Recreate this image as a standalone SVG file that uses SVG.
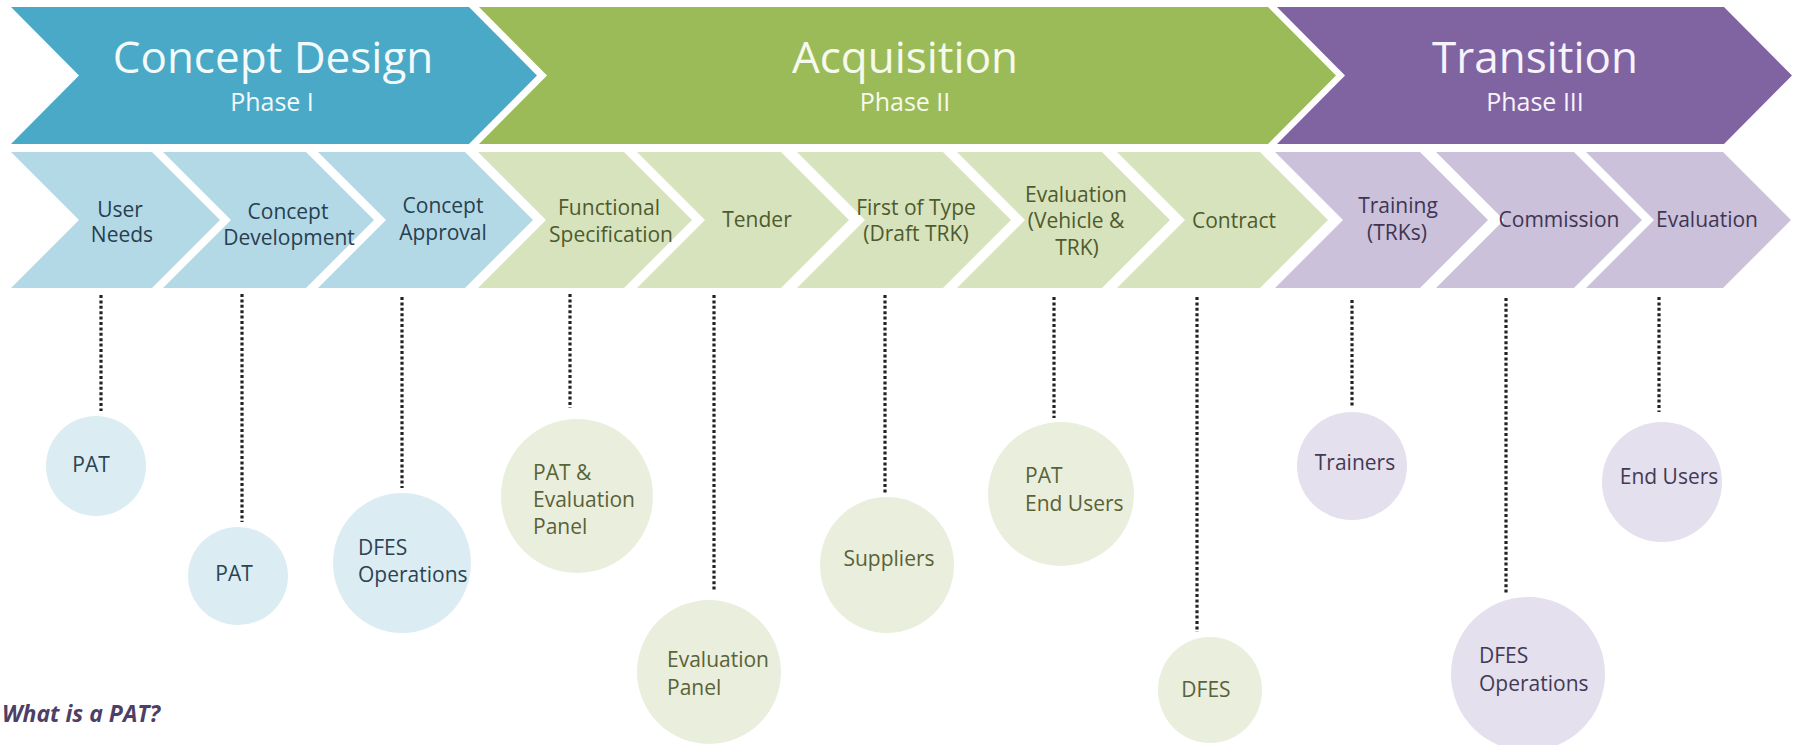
<svg xmlns="http://www.w3.org/2000/svg" width="1799" height="745" viewBox="0 0 1799 745">
  <style>
    text { font-family: "Open Sans", "Noto Sans", "DejaVu Sans", sans-serif; }
    .title { font-size: 44px; text-anchor: middle; }
    .phase { font-size: 25px; text-anchor: middle; }
    .lbl { font-size: 21px; text-anchor: middle; }
    .clbl { font-size: 21px; }
    .mid { text-anchor: middle; }
    .bigB { fill: #4aa9c6; } .bigG { fill: #9bbb59; } .bigP { fill: #8064a2; }
    .stB { fill: #b4d9e6; } .stG { fill: #d7e3bd; } .stP { fill: #cbc1da; }
    .ciB { fill: #dbedf3; } .ciG { fill: #e9efdc; } .ciP { fill: #e5e0ed; }
    .tB { fill: #f3fafc; } .tG { fill: #f6faec; } .tP { fill: #f7f3fb; }
    .dB { fill: #27404f; } .dG { fill: #4f5a2d; } .dP { fill: #3f3553; }
    .cB { fill: #2c4352; } .cG { fill: #5a6238; } .cP { fill: #423a55; }
    .dot { stroke: #222; stroke-width: 3.2; stroke-dasharray: 3 2.4; fill: none; }
  </style>
  <rect width="1799" height="745" fill="#ffffff"/>

  <!-- Phase chevrons -->
  <g id="phase1">
    <polygon class="bigB" points="11,7 469,7 537,75.5 469,144 11,144 79,75.5"/>
    <text class="title tB" x="273" y="73">Concept Design</text>
    <text class="phase tB" x="272" y="111">Phase I</text>
  </g>
  <g id="phase2">
    <polygon class="bigG" points="479,7 1268,7 1336,75.5 1268,144 479,144 547,75.5"/>
    <text class="title tG" x="905" y="73">Acquisition</text>
    <text class="phase tG" x="905" y="111">Phase II</text>
  </g>
  <g id="phase3">
    <polygon class="bigP" points="1277,7 1724,7 1792,75.5 1724,144 1277,144 1345,75.5"/>
    <text class="title tP" x="1535" y="73">Transition</text>
    <text class="phase tP" x="1535" y="111">Phase III</text>
  </g>

  <!-- Step chevrons -->
  <g id="step-user-needs">
    <polygon class="stB" points="11,152 152,152 220,220 152,288 11,288 79,220"/>
    <text class="lbl dB" x="120" y="217">User</text>
    <text class="lbl dB" x="122" y="242">Needs</text>
  </g>
  <g id="step-concept-development">
    <polygon class="stB" points="163,152 306,152 374,220 306,288 163,288 231,220"/>
    <text class="lbl dB" x="288" y="219">Concept</text>
    <text class="lbl dB" x="289" y="245">Development</text>
  </g>
  <g id="step-concept-approval">
    <polygon class="stB" points="318,152 465,152 533,220 465,288 318,288 386,220"/>
    <text class="lbl dB" x="443" y="213">Concept</text>
    <text class="lbl dB" x="443" y="240">Approval</text>
  </g>
  <g id="step-functional-specification">
    <polygon class="stG" points="478,152 624,152 692,220 624,288 478,288 546,220"/>
    <text class="lbl dG" x="609" y="215">Functional</text>
    <text class="lbl dG" x="611" y="242">Specification</text>
  </g>
  <g id="step-tender">
    <polygon class="stG" points="637,152 781,152 849,220 781,288 637,288 705,220"/>
    <text class="lbl dG" x="757" y="227">Tender</text>
  </g>
  <g id="step-first-of-type">
    <polygon class="stG" points="797,152 943,152 1011,220 943,288 797,288 865,220"/>
    <text class="lbl dG" x="916" y="215">First of Type</text>
    <text class="lbl dG" x="916" y="241">(Draft TRK)</text>
  </g>
  <g id="step-evaluation-vehicle">
    <polygon class="stG" points="957,152 1102,152 1170,220 1102,288 957,288 1025,220"/>
    <text class="lbl dG" x="1076" y="202">Evaluation</text>
    <text class="lbl dG" x="1076" y="228">(Vehicle &amp;</text>
    <text class="lbl dG" x="1077" y="255">TRK)</text>
  </g>
  <g id="step-contract">
    <polygon class="stG" points="1117,152 1260,152 1328,220 1260,288 1117,288 1185,220"/>
    <text class="lbl dG" x="1234" y="228">Contract</text>
  </g>
  <g id="step-training">
    <polygon class="stP" points="1275,152 1420,152 1488,220 1420,288 1275,288 1343,220"/>
    <text class="lbl dP" x="1398" y="213">Training</text>
    <text class="lbl dP" x="1397" y="240">(TRKs)</text>
  </g>
  <g id="step-commission">
    <polygon class="stP" points="1436,152 1574,152 1642,220 1574,288 1436,288 1504,220"/>
    <text class="lbl dP" x="1559" y="227">Commission</text>
  </g>
  <g id="step-evaluation">
    <polygon class="stP" points="1586,152 1723,152 1791,220 1723,288 1586,288 1654,220"/>
    <text class="lbl dP" x="1707" y="227">Evaluation</text>
  </g>

  <!-- Connectors -->
  <g id="connectors">
    <line class="dot" x1="101" y1="295" x2="101" y2="411"/>
    <line class="dot" x1="242" y1="294" x2="242" y2="522"/>
    <line class="dot" x1="402" y1="297" x2="402" y2="488"/>
    <line class="dot" x1="570" y1="294" x2="570" y2="408"/>
    <line class="dot" x1="714" y1="295" x2="714" y2="592"/>
    <line class="dot" x1="885" y1="295" x2="885" y2="493"/>
    <line class="dot" x1="1054" y1="297" x2="1054" y2="418"/>
    <line class="dot" x1="1197" y1="297" x2="1197" y2="632"/>
    <line class="dot" x1="1352" y1="300" x2="1352" y2="408"/>
    <line class="dot" x1="1506" y1="298" x2="1506" y2="593"/>
    <line class="dot" x1="1659" y1="297" x2="1659" y2="412"/>
  </g>

  <!-- Stakeholder circles -->
  <g id="c-pat-1">
    <ellipse class="ciB" cx="96" cy="466" rx="50" ry="50"/>
    <text class="clbl mid cB" x="91" y="472">PAT</text>
  </g>
  <g id="c-pat-2">
    <ellipse class="ciB" cx="238" cy="576" rx="50" ry="49"/>
    <text class="clbl mid cB" x="234" y="581">PAT</text>
  </g>
  <g id="c-dfes-operations-1">
    <ellipse class="ciB" cx="402" cy="563" rx="69" ry="70"/>
    <text class="clbl cB" x="358" y="555">DFES</text>
    <text class="clbl cB" x="358" y="582">Operations</text>
  </g>
  <g id="c-pat-evaluation-panel">
    <ellipse class="ciG" cx="577" cy="496" rx="76" ry="77"/>
    <text class="clbl cG" x="533" y="480">PAT &amp;</text>
    <text class="clbl cG" x="533" y="507">Evaluation</text>
    <text class="clbl cG" x="533" y="534">Panel</text>
  </g>
  <g id="c-evaluation-panel">
    <ellipse class="ciG" cx="709" cy="672" rx="72" ry="72"/>
    <text class="clbl cG" x="667" y="667">Evaluation</text>
    <text class="clbl cG" x="667" y="695">Panel</text>
  </g>
  <g id="c-suppliers">
    <ellipse class="ciG" cx="887" cy="565" rx="67" ry="68"/>
    <text class="clbl mid cG" x="889" y="566">Suppliers</text>
  </g>
  <g id="c-pat-end-users">
    <ellipse class="ciG" cx="1061" cy="494" rx="73" ry="72"/>
    <text class="clbl cG" x="1025" y="483">PAT</text>
    <text class="clbl cG" x="1025" y="511">End Users</text>
  </g>
  <g id="c-dfes">
    <ellipse class="ciG" cx="1210" cy="690" rx="52" ry="53"/>
    <text class="clbl mid cG" x="1206" y="697">DFES</text>
  </g>
  <g id="c-trainers">
    <ellipse class="ciP" cx="1352" cy="466" rx="55" ry="54"/>
    <text class="clbl mid cP" x="1355" y="470">Trainers</text>
  </g>
  <g id="c-dfes-operations-2">
    <ellipse class="ciP" cx="1528" cy="674" rx="77" ry="77"/>
    <text class="clbl cP" x="1479" y="663">DFES</text>
    <text class="clbl cP" x="1479" y="691">Operations</text>
  </g>
  <g id="c-end-users">
    <ellipse class="ciP" cx="1662" cy="482" rx="60" ry="60"/>
    <text class="clbl mid cP" x="1669" y="484">End Users</text>
  </g>

  <text x="2" y="722" font-size="23" font-weight="bold" font-style="italic" fill="#4e3f66">What is a PAT?</text>
</svg>
